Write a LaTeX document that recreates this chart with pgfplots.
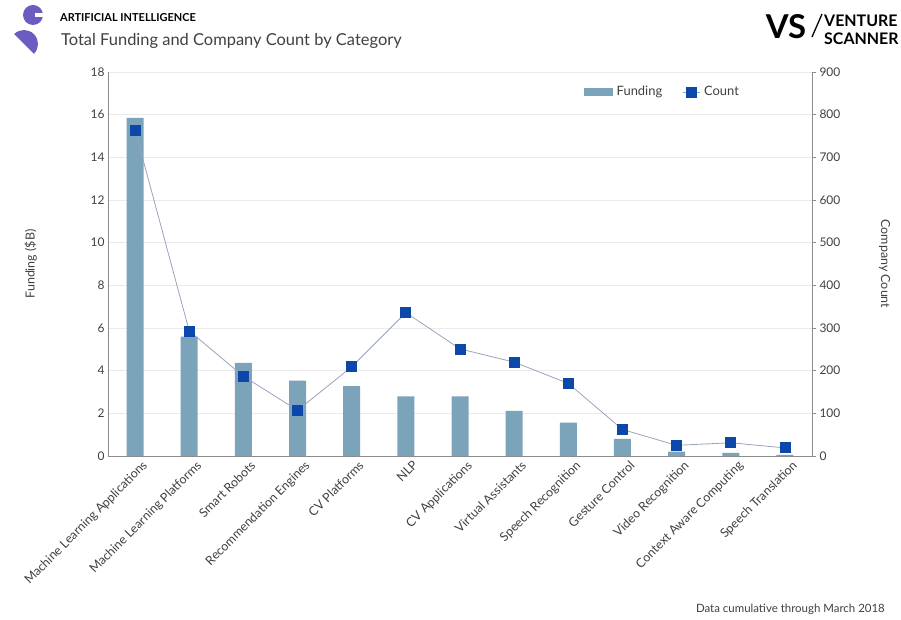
\documentclass[border=0pt]{standalone}
\usepackage{pgfplots}
\pgfplotsset{compat=1.18}
\usepackage{fontspec}
\setmainfont{Lato}
\definecolor{barcol}{HTML}{7BA3BA}
\definecolor{linecol}{HTML}{9AA2BE}
\definecolor{markcol}{HTML}{0B48AA}
\definecolor{txt}{HTML}{404040}
\definecolor{axcol}{HTML}{8C8C8C}
\definecolor{purp}{HTML}{6A5CC0}
\pgfplotstableread{
x funding count
0 15.85 764
1 5.59 293
2 4.37 187
3 3.53 107
4 3.28 209
5 2.80 336
6 2.80 251
7 2.12 220
8 1.56 170
9 0.80 62
10 0.20 25
11 0.15 31
12 0.05 19
}\datatable
\begin{document}
\begin{tikzpicture}[x=1bp,y=1bp]
\path[use as bounding box] (0,0) rectangle (901,620);
% header logo
\fill[purp] (33,605) circle (10);
\fill[white] (35,603.2) rectangle (44,606.8);
\fill[purp] (14.1,585.9) arc (135:-45:14) -- cycle;
\node[anchor=base west, inner sep=0pt, font=\bfseries\fontsize{11}{13}\selectfont, text=black] at (60,598) {ARTIFICIAL INTELLIGENCE};
\node[anchor=base west, inner sep=0pt, font=\fontsize{16.5}{19}\selectfont, text=txt] at (61,574) {Total Funding and Company Count by Category};
% VS logo
\node[anchor=center, inner sep=0pt, font=\bfseries\fontsize{33}{36}\selectfont, text=black] at (786,593) {VS};
\draw[black, line width=1.3bp] (812,583) -- (822,606);
\node[anchor=base west, inner sep=0pt, font=\bfseries\fontsize{16}{18}\selectfont, text=black] at (824,593) {VENTURE};
\node[anchor=base west, inner sep=0pt, font=\bfseries\fontsize{16}{18}\selectfont, text=black] at (824,575) {SCANNER};
% footer
\node[anchor=base east, inner sep=0pt, font=\fontsize{11.5}{13}\selectfont, text=txt] at (885,7) {Data cumulative through March 2018};
\begin{axis}[
  at={(108bp,164bp)}, anchor=south west,
  scale only axis, width=704bp, height=384bp,
  xmin=-0.5, xmax=12.5, ymin=0, ymax=18,
  ytick={0,2,...,18},
  xtick={0,...,12},
  xticklabels={Machine Learning Applications, Machine Learning Platforms, Smart Robots, Recommendation Engines, CV Platforms, NLP, CV Applications, Virtual Assistants, Speech Recognition, Gesture Control, Video Recognition, Context Aware Computing, Speech Translation},
  x tick label style={rotate=45, anchor=north east, font=\fontsize{12.5}{14}\selectfont, text=txt, inner sep=1bp, xshift=3bp, yshift=-6bp},
  y tick label style={font=\fontsize{12}{14}\selectfont, text=txt},
  /pgf/number format/assume math mode=true,
  axis y line*=left, axis x line*=bottom,
  axis line style={axcol, line width=0.8bp},
  major tick length=0pt,
  ymajorgrids, grid style={black!8, line width=0.8bp},
  ylabel={Funding (\$B)},
  ylabel style={at={(axis description cs:-0.11,0.5)}, anchor=center, font=\fontsize{12.5}{14}\selectfont, text=txt},
]
\addplot[ybar, bar width=17bp, fill=barcol, draw=none] table[x=x, y=funding] {\datatable};
\end{axis}
\begin{axis}[
  at={(108bp,164bp)}, anchor=south west,
  scale only axis, width=704bp, height=384bp,
  xmin=-0.5, xmax=12.5, ymin=0, ymax=900,
  ytick={0,100,...,900},
  axis y line*=right, axis x line=none,
  axis line style={axcol, line width=0.8bp},
  ytick style={axcol, line width=0.8bp},
  major tick length=4bp,
  tick align=outside,
  y tick label style={font=\fontsize{12}{14}\selectfont, text=txt},
  /pgf/number format/assume math mode=true,
  ylabel={Company Count},
  ylabel style={at={(axis description cs:1.103,0.5)}, anchor=center, rotate=180, font=\fontsize{12.5}{14}\selectfont, text=txt},
  legend style={at={(axis description cs:0.672,0.948)}, anchor=west, draw=none, fill=none, font=\fontsize{13}{15}\selectfont, text=txt, legend columns=2,
    /tikz/every odd column/.append style={column sep=2bp},
    /tikz/every even column/.append style={column sep=18bp}},
]
\addlegendimage{legend image code/.code={\fill[barcol] (0bp,-3.5bp) rectangle (28bp,3.5bp);}}
\addlegendentry{Funding}
\addplot[linecol, line width=0.8bp, mark=square*, mark size=5bp, mark options={fill=markcol, draw=markcol}] table[x=x, y=count] {\datatable};
\addlegendentry{Count}
\end{axis}
\end{tikzpicture}
\end{document}
